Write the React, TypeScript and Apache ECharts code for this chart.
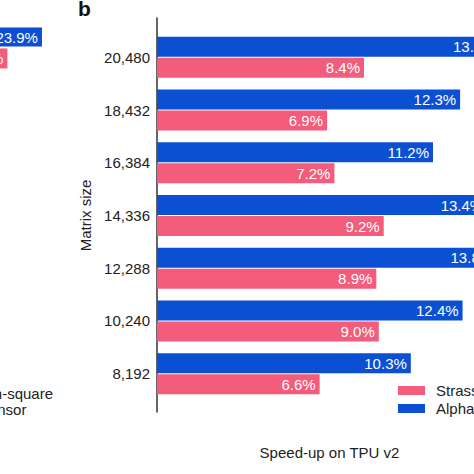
import { useEffect, useRef } from "react";
import * as echarts from "echarts";

const STRASSEN_COLOR = "#f35c7a";
const ALPHA_COLOR = "#0b50d3";
const FONT = "Liberation Sans";

const matrixSizes = ["8,192", "10,240", "12,288", "14,336", "16,384", "18,432", "20,480"];
const alphaTensorTpu = [10.3, 12.4, 13.8, 13.4, 11.2, 12.3, 13.9];
const strassenTpu = [6.6, 9.0, 8.9, 9.2, 7.2, 6.9, 8.4];

// neighbouring panel (a), only the ends of its top pair of bars are in view
const leftSizes = ["20,480"];
const alphaTensorLeft = [23.9];
const strassenLeft = [22.5];

const legendNames = ["Strassen-square", "AlphaTensor"];

const pct = (p: { value: number }) => `${Number(p.value).toFixed(1)}%`;

function barLabel() {
  return {
    show: true,
    position: "insideRight" as const,
    distance: 4,
    color: "#ffffff",
    fontFamily: FONT,
    fontSize: 15,
    formatter: pct,
  };
}

function legend(left: number, top: number, gap: number) {
  return {
    data: legendNames,
    orient: "vertical" as const,
    left,
    top,
    itemWidth: 27,
    itemHeight: 9,
    itemGap: gap,
    icon: "rect",
    textStyle: { color: "#222", fontSize: 15, fontFamily: FONT, padding: [0, 0, 0, 6] },
  };
}

export default function App() {
  const ref = useRef<HTMLDivElement>(null);

  useEffect(() => {
    if (!ref.current) return;
    const chart = echarts.init(ref.current, null, { renderer: "svg" });

    chart.setOption({
      animation: false,
      textStyle: { fontFamily: FONT },
      grid: [
        { left: 157, width: 345, top: 31, height: 369, outerBoundsMode: "none" },
        { left: 157, width: 1, top: 18, height: 394, outerBoundsMode: "none" },
        { left: 0, width: 60, top: 27, height: 42, outerBoundsMode: "none" },
      ],
      xAxis: [
        {
          gridIndex: 0,
          type: "value",
          min: 0,
          max: 14,
          axisLine: { show: false },
          axisTick: { show: false },
          axisLabel: { show: false },
          splitLine: { show: false },
          name: "Speed-up on TPU v2",
          nameLocation: "middle",
          nameGap: 45,
          nameTextStyle: { color: "#222", fontSize: 15, fontFamily: FONT },
        },
        { gridIndex: 1, type: "value", show: false },
        { gridIndex: 2, type: "value", show: false, min: 22.2, max: 24.63 },
      ],
      yAxis: [
        {
          gridIndex: 0,
          type: "category",
          data: matrixSizes,
          axisLine: { show: false },
          axisTick: { show: false },
          axisLabel: { color: "#222", fontSize: 15, fontFamily: FONT, margin: 7 },
          name: "Matrix size",
          nameLocation: "middle",
          nameRotate: 90,
          nameGap: 61,
          nameTextStyle: { color: "#222", fontSize: 15, fontFamily: FONT },
        },
        {
          gridIndex: 1,
          type: "value",
          axisLine: { show: true, lineStyle: { color: "#333", width: 1.5 } },
          axisTick: { show: false },
          axisLabel: { show: false },
          splitLine: { show: false },
        },
        { gridIndex: 2, type: "category", data: leftSizes, show: false },
      ],
      legend: [legend(393, 378, 3), legend(-100, 381, 1)],
      graphic: [
        {
          type: "text",
          left: 78,
          top: -2,
          style: { text: "b", fontSize: 21, fontWeight: "bold", fontFamily: FONT, fill: "#111" },
        },
      ],
      series: [
        {
          name: "AlphaTensor",
          type: "bar",
          xAxisIndex: 0,
          yAxisIndex: 0,
          data: alphaTensorTpu,
          barWidth: 20,
          barGap: "5%",
          itemStyle: { color: ALPHA_COLOR },
          label: barLabel(),
        },
        {
          name: "Strassen-square",
          type: "bar",
          xAxisIndex: 0,
          yAxisIndex: 0,
          data: strassenTpu,
          barWidth: 20,
          barGap: "5%",
          itemStyle: { color: STRASSEN_COLOR },
          label: barLabel(),
        },
        {
          name: "AlphaTensor",
          type: "bar",
          xAxisIndex: 2,
          yAxisIndex: 2,
          data: alphaTensorLeft,
          barWidth: 19,
          barGap: "10%",
          itemStyle: { color: ALPHA_COLOR },
          label: barLabel(),
        },
        {
          name: "Strassen-square",
          type: "bar",
          xAxisIndex: 2,
          yAxisIndex: 2,
          data: strassenLeft,
          barWidth: 20,
          barGap: "10%",
          itemStyle: { color: STRASSEN_COLOR },
          label: barLabel(),
        },
      ],
    });

    return () => {
      chart.dispose();
    };
  }, []);

  return (
    <div
      ref={ref}
      style={{ position: "fixed", left: 0, top: 0, width: 474, height: 474, background: "#fff" }}
    />
  );
}
